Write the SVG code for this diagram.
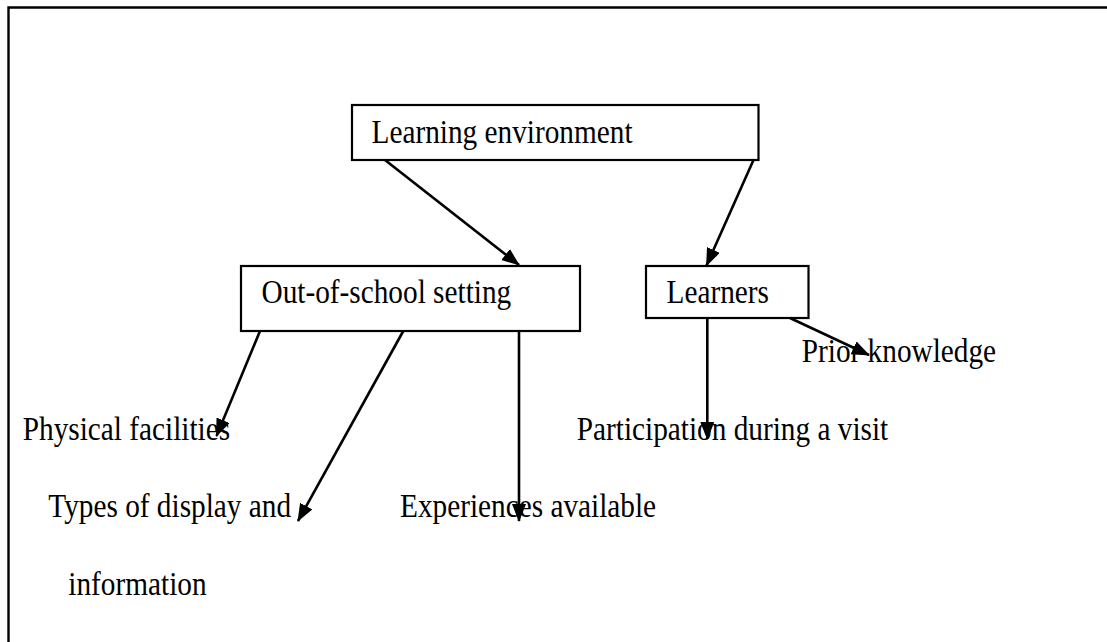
<svg xmlns="http://www.w3.org/2000/svg" width="1107" height="642" viewBox="0 0 1107 642">
  <style>
    .box { fill: #ffffff; stroke: #000000; stroke-width: 2.2; }
    .lbl { font-family: "Liberation Serif", "Times New Roman", serif; font-size: 29.3px; fill: #000000; }
    .con { stroke: #000000; stroke-width: 2.6; fill: none; marker-end: url(#arr); }
    .frame { stroke: #000000; stroke-width: 2.4; fill: none; }
  </style>
  <defs>
    <marker id="arr" markerUnits="userSpaceOnUse" markerWidth="19" markerHeight="15" refX="17" refY="7" orient="auto" viewBox="0 0 19 15">
      <path d="M0,0 L18,7 L0,14 Z" fill="#000000"/>
    </marker>
  </defs>
  <rect width="1107" height="642" fill="#ffffff"/>
  <path class="frame" d="M8.5,642 L8.5,7.5 L1107,7.5"/>

  <g id="node-learning-environment">
    <rect class="box" x="352" y="105" width="406.5" height="55"/>
    <text class="lbl" transform="translate(371.5,143) scale(1,1.12)">Learning environment</text>
  </g>
  <g id="node-out-of-school">
    <rect class="box" x="241" y="266" width="339" height="65"/>
    <text class="lbl" transform="translate(261.5,303) scale(1,1.12)">Out-of-school setting</text>
  </g>
  <g id="node-learners">
    <rect class="box" x="646" y="266" width="162.5" height="52"/>
    <text class="lbl" transform="translate(666.5,303) scale(1,1.12)">Learners</text>
  </g>
  <g id="node-physical">
    <text class="lbl" transform="translate(22.7,440) scale(1,1.12)">Physical facilities</text>
  </g>
  <g id="node-types">
    <text class="lbl" transform="translate(48.3,517) scale(1,1.12)">Types of display and</text>
    <text class="lbl" transform="translate(68.3,595) scale(1,1.12)">information</text>
  </g>
  <g id="node-experiences">
    <text class="lbl" transform="translate(400,517) scale(1,1.12)">Experiences available</text>
  </g>
  <g id="node-participation">
    <text class="lbl" transform="translate(576.7,440) scale(1,1.12)">Participation during a visit</text>
  </g>
  <g id="node-prior">
    <text class="lbl" transform="translate(801.7,362) scale(1,1.12)">Prior knowledge</text>
  </g>

  <g id="connectors">
    <line class="con" x1="385" y1="160" x2="519" y2="265"/>
    <line class="con" x1="753.5" y1="160" x2="706.5" y2="265.5"/>
    <line class="con" x1="260" y1="331" x2="216.5" y2="436"/>
    <line class="con" x1="403.3" y1="331" x2="298" y2="521"/>
    <line class="con" x1="519" y1="331" x2="519" y2="521"/>
    <line class="con" x1="707.3" y1="318" x2="707.3" y2="439"/>
    <line class="con" x1="790" y1="318" x2="869" y2="355"/>
  </g>
</svg>
